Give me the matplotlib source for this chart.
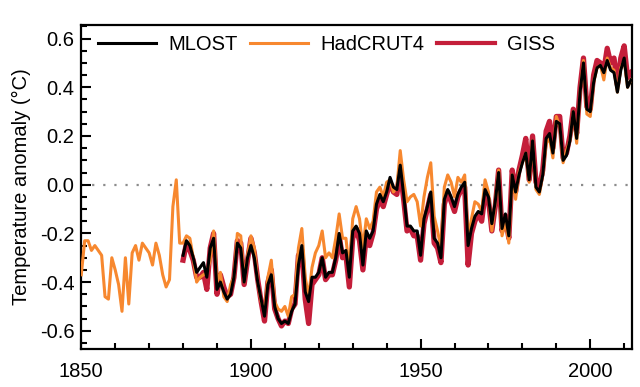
import numpy as np
import matplotlib
matplotlib.use("Agg")
import matplotlib.pyplot as plt
from matplotlib.ticker import MultipleLocator

plt.rcParams['font.family'] = ['Liberation Sans', 'DejaVu Sans']
plt.rcParams['axes.unicode_minus'] = False

# annual anomalies relative to 1961-1990
hadcrut_years = np.arange(1850, 2013)
hadcrut4 = [
    -0.37, -0.23, -0.23, -0.27, -0.25, -0.27, -0.29, -0.46, -0.47, -0.30,
    -0.35, -0.41, -0.52, -0.30, -0.49, -0.28, -0.25, -0.31, -0.24, -0.26,
    -0.28, -0.33, -0.24, -0.29, -0.37, -0.42, -0.39, -0.09, 0.02, -0.24,
    -0.24, -0.21, -0.22, -0.30, -0.40, -0.38, -0.37, -0.36, -0.31, -0.19,
    -0.40, -0.36, -0.46, -0.48, -0.41, -0.38, -0.20, -0.21, -0.40, -0.29,
    -0.21, -0.26, -0.40, -0.48, -0.52, -0.38, -0.31, -0.48, -0.51, -0.52,
    -0.50, -0.54, -0.46, -0.45, -0.26, -0.18, -0.38, -0.46, -0.34, -0.28,
    -0.25, -0.19, -0.30, -0.28, -0.30, -0.22, -0.12, -0.22, -0.22, -0.35,
    -0.14, -0.09, -0.14, -0.26, -0.14, -0.18, -0.15, -0.03, -0.01, -0.05,
    0.01, 0.02, -0.03, -0.01, 0.14, 0.02, -0.07, -0.05, -0.04, -0.07,
    -0.17, -0.05, 0.03, 0.09, -0.13, -0.19, -0.26, -0.01, 0.04, 0.01,
    -0.05, 0.03, 0.01, 0.04, -0.22, -0.14, -0.07, -0.08, -0.11, 0.02,
    -0.03, -0.19, -0.07, 0.06, -0.21, -0.15, -0.24, 0.04, -0.06, 0.05,
    0.09, 0.13, 0.01, 0.18, -0.02, -0.04, 0.04, 0.17, 0.19, 0.11,
    0.28, 0.24, 0.09, 0.14, 0.18, 0.30, 0.17, 0.38, 0.51, 0.29,
    0.28, 0.42, 0.48, 0.49, 0.43, 0.52, 0.48, 0.47, 0.38, 0.48,
    0.51, 0.40, 0.43,
]

years = np.arange(1880, 2013)
mlost = [
    -0.29, -0.23, -0.25, -0.30, -0.36, -0.34, -0.32, -0.38, -0.26, -0.22,
    -0.43, -0.40, -0.44, -0.47, -0.45, -0.38, -0.24, -0.26, -0.40, -0.30,
    -0.25, -0.30, -0.40, -0.47, -0.54, -0.41, -0.37, -0.50, -0.55, -0.57,
    -0.56, -0.57, -0.52, -0.49, -0.33, -0.25, -0.44, -0.48, -0.38, -0.38,
    -0.36, -0.30, -0.38, -0.36, -0.36, -0.30, -0.20, -0.28, -0.27, -0.38,
    -0.19, -0.17, -0.20, -0.33, -0.19, -0.22, -0.19, -0.08, -0.04, -0.07,
    -0.03, 0.03, -0.01, -0.02, 0.08, -0.04, -0.17, -0.17, -0.19, -0.19,
    -0.29, -0.14, -0.09, -0.03, -0.22, -0.24, -0.30, -0.06, -0.02, -0.05,
    -0.09, -0.04, -0.01, 0.01, -0.25, -0.18, -0.13, -0.11, -0.12, -0.02,
    -0.05, -0.16, -0.07, 0.05, -0.18, -0.12, -0.21, 0.04, -0.03, 0.04,
    0.09, 0.13, 0.02, 0.18, -0.01, -0.03, 0.04, 0.19, 0.21, 0.13,
    0.26, 0.25, 0.10, 0.12, 0.18, 0.30, 0.19, 0.38, 0.50, 0.31,
    0.30, 0.42, 0.48, 0.49, 0.46, 0.51, 0.47, 0.46, 0.38, 0.47,
    0.52, 0.40, 0.43,
]
giss = [
    -0.31, -0.24, -0.27, -0.31, -0.38, -0.38, -0.36, -0.43, -0.26, -0.20,
    -0.45, -0.37, -0.42, -0.46, -0.45, -0.38, -0.23, -0.24, -0.41, -0.31,
    -0.22, -0.28, -0.39, -0.48, -0.56, -0.40, -0.35, -0.51, -0.55, -0.58,
    -0.56, -0.57, -0.51, -0.49, -0.29, -0.27, -0.47, -0.57, -0.41, -0.39,
    -0.37, -0.30, -0.39, -0.37, -0.37, -0.31, -0.21, -0.30, -0.29, -0.42,
    -0.22, -0.18, -0.23, -0.35, -0.21, -0.25, -0.20, -0.10, -0.06, -0.09,
    -0.04, 0.01, -0.03, -0.04, 0.06, -0.06, -0.19, -0.18, -0.21, -0.21,
    -0.31, -0.16, -0.10, -0.04, -0.24, -0.26, -0.32, -0.08, -0.03, -0.07,
    -0.11, -0.05, -0.02, -0.01, -0.33, -0.20, -0.15, -0.12, -0.15, -0.04,
    -0.06, -0.19, -0.09, 0.06, -0.19, -0.13, -0.22, 0.06, -0.03, 0.06,
    0.12, 0.19, 0.02, 0.20, 0.01, -0.01, 0.06, 0.22, 0.26, 0.15,
    0.28, 0.28, 0.11, 0.13, 0.20, 0.31, 0.21, 0.40, 0.52, 0.32,
    0.31, 0.45, 0.51, 0.50, 0.47, 0.56, 0.50, 0.52, 0.41, 0.52,
    0.57, 0.44, 0.46,
]

fig = plt.figure(figsize=(6.4, 3.87), dpi=100)
ax = fig.add_axes([0.127, 0.098, 0.861, 0.837])

ax.axhline(0, color='#8c8c8c', lw=1.6, ls=(0, (1, 4)), zorder=1)
ax.plot(years, giss, color='#c41e3a', lw=3.8, label='GISS', zorder=2)
ax.plot(hadcrut_years, hadcrut4, color='#f7882f', lw=2.2, label='HadCRUT4', zorder=3)
ax.plot(years, mlost, color='black', lw=2.2, label='MLOST', zorder=4)

ax.set_xlim(1850, 2012.4)
ax.set_ylim(-0.675, 0.655)
ax.xaxis.set_major_locator(MultipleLocator(50))
ax.xaxis.set_minor_locator(MultipleLocator(10))
ax.yaxis.set_major_locator(MultipleLocator(0.2))
ax.yaxis.set_minor_locator(MultipleLocator(0.05))
ax.yaxis.set_major_formatter(matplotlib.ticker.FormatStrFormatter('%.1f'))

ax.tick_params(which='both', direction='in', width=1.5, labelsize=14.5, top=False, right=False)
ax.tick_params(which='major', length=7)
ax.tick_params(which='minor', length=4)
ax.tick_params(axis='x', pad=9)
ax.tick_params(axis='y', pad=5)
for s in ax.spines.values():
    s.set_linewidth(1.6)

ax.set_ylabel('Temperature anomaly (\u00b0C)', fontsize=14.5, labelpad=6)

h, l = ax.get_legend_handles_labels()
order = [2, 1, 0]
leg = ax.legend([h[i] for i in order], [l[i] for i in order], loc='upper center',
                bbox_to_anchor=(0.445, 1.025), ncol=3, frameon=False, fontsize=14.5,
                handlelength=2.9, handletextpad=0.6, columnspacing=0.6)
leg.get_lines()[2].set_linewidth(3.0)

fig.savefig('out.png', dpi=100)
